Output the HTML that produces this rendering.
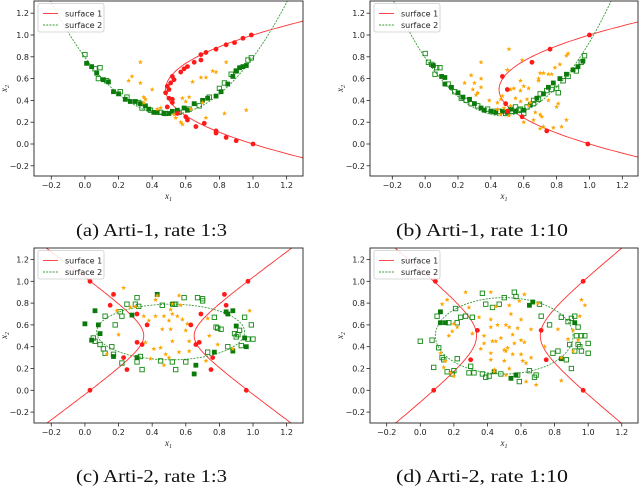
<!DOCTYPE html>
<html><head><meta charset="utf-8">
<style>
html,body{margin:0;padding:0;background:#fff;}
svg{display:block;}
.tk{font-family:"DejaVu Sans","Liberation Sans",sans-serif;font-size:8px;fill:#222;}
.cap{font-family:"Liberation Serif",serif;font-size:18px;fill:#111;}
.lg{font-family:"DejaVu Sans","Liberation Sans",sans-serif;font-size:8px;fill:#222;}
.al{font-family:"Liberation Serif",serif;font-style:italic;font-size:9px;fill:#222;}
</style></head>
<body>
<svg id="fig" width="640" height="486" viewBox="0 0 640 486" xmlns="http://www.w3.org/2000/svg"></svg>
<script>
// ---- data (x1, x2 pairs) ----
const aRed=[[0.99,1.0],[0.94,0.97],[0.89,0.93],[0.84,0.91],[0.78,0.87],[0.72,0.84],[0.69,0.82],[0.69,0.77],[0.65,0.75],[0.61,0.71],[0.59,0.69],[0.57,0.66],[0.52,0.62],[0.53,0.59],[0.51,0.56],[0.49,0.53],[0.5,0.5],[0.48,0.47],[0.5,0.42],[0.52,0.41],[0.49,0.34],[0.52,0.38],[0.55,0.28],[0.6,0.25],[0.61,0.22],[0.66,0.16],[0.71,0.19],[0.78,0.12],[0.78,0.1],[0.84,0.06],[0.9,0.03],[1.0,0.0]];
const aStar=[[0.33,0.75],[0.26,0.58],[0.28,0.62],[0.33,0.56],[0.4,0.5],[0.35,0.43],[0.36,0.41],[0.35,0.38],[0.43,0.32],[0.45,0.33],[0.53,0.27],[0.54,0.24],[0.58,0.18],[0.57,0.2],[0.58,0.42],[0.62,0.43],[0.64,0.57],[0.69,0.61],[0.72,0.61],[0.7,0.38],[0.72,0.24],[0.76,0.67],[0.78,0.66],[0.84,0.75],[0.83,0.28],[0.96,0.31],[0.63,0.32],[0.6,0.39]];
const aFill=[[0.01,0.74],[0.04,0.71],[0.07,0.65],[0.11,0.59],[0.14,0.57],[0.17,0.48],[0.2,0.46],[0.24,0.41],[0.27,0.39],[0.3,0.39],[0.33,0.37],[0.36,0.35],[0.38,0.32],[0.41,0.29],[0.43,0.29],[0.47,0.28],[0.5,0.28],[0.52,0.3],[0.55,0.31],[0.59,0.33],[0.61,0.31],[0.65,0.37],[0.7,0.4],[0.73,0.42],[0.78,0.44],[0.81,0.48],[0.85,0.55],[0.88,0.62],[0.9,0.67],[0.92,0.7],[0.94,0.71],[0.96,0.72]];
const aHollow=[[0.0,0.82],[0.06,0.69],[0.09,0.7],[0.08,0.6],[0.13,0.58],[0.21,0.48],[0.25,0.43],[0.32,0.38],[0.34,0.33],[0.39,0.31],[0.45,0.29],[0.48,0.28],[0.56,0.29],[0.62,0.32],[0.68,0.35],[0.74,0.43],[0.8,0.51],[0.83,0.56],[0.87,0.64],[0.9,0.67],[0.99,0.79],[0.97,0.77]];

const bRed=[[1.0,1.0],[0.76,0.87],[0.65,0.75],[0.47,0.62],[0.5,0.5],[0.49,0.37],[0.59,0.25],[0.74,0.12],[0.99,0.0],[0.5,0.3]];
const bStar=[[0.51,0.87],[0.34,0.75],[0.59,0.77],[0.5,0.68],[0.87,0.83],[0.86,0.81],[0.82,0.73],[0.79,0.7],[0.72,0.65],[0.7,0.65],[0.75,0.64],[0.77,0.64],[0.69,0.6],[0.69,0.58],[0.28,0.63],[0.34,0.6],[0.24,0.56],[0.3,0.56],[0.29,0.5],[0.32,0.47],[0.34,0.52],[0.31,0.45],[0.39,0.4],[0.46,0.41],[0.47,0.44],[0.52,0.5],[0.54,0.51],[0.58,0.49],[0.6,0.53],[0.63,0.51],[0.58,0.58],[0.55,0.42],[0.58,0.39],[0.62,0.41],[0.52,0.35],[0.48,0.33],[0.5,0.31],[0.44,0.32],[0.46,0.27],[0.6,0.2],[0.66,0.22],[0.7,0.27],[0.71,0.25],[0.8,0.34],[0.81,0.37],[0.75,0.4],[0.67,0.29],[0.64,0.38],[0.72,0.16],[0.78,0.15],[0.83,0.16],[0.86,0.22],[0.7,0.14],[0.51,0.26],[0.63,0.35],[0.44,0.38]];
const bFill=[[0.05,0.72],[0.1,0.62],[0.12,0.61],[0.12,0.55],[0.16,0.52],[0.2,0.47],[0.23,0.43],[0.27,0.41],[0.3,0.37],[0.34,0.33],[0.36,0.31],[0.4,0.3],[0.43,0.29],[0.47,0.3],[0.5,0.29],[0.52,0.32],[0.55,0.3],[0.6,0.31],[0.64,0.36],[0.68,0.42],[0.72,0.46],[0.75,0.52],[0.78,0.56],[0.82,0.6],[0.86,0.64],[0.9,0.68],[0.93,0.71],[0.96,0.76]];
const bHollow=[[0.0,0.83],[0.02,0.75],[0.04,0.73],[0.07,0.7],[0.09,0.7],[0.06,0.64],[0.14,0.55],[0.18,0.48],[0.22,0.42],[0.25,0.4],[0.28,0.37],[0.32,0.35],[0.38,0.32],[0.42,0.3],[0.45,0.3],[0.49,0.28],[0.53,0.3],[0.57,0.31],[0.58,0.32],[0.62,0.34],[0.66,0.37],[0.69,0.41],[0.7,0.46],[0.74,0.49],[0.8,0.51],[0.84,0.58],[0.87,0.62],[0.92,0.67],[0.97,0.81],[0.95,0.75],[0.6,0.28],[0.55,0.34],[0.66,0.4],[0.77,0.5],[0.81,0.47]];

const cRed=[[0.03,1.0],[0.17,0.88],[0.15,0.78],[0.31,0.7],[0.37,0.6],[0.31,0.44],[0.34,0.42],[0.23,0.3],[0.25,0.19],[0.03,0.0],[0.97,1.0],[0.83,0.88],[0.84,0.78],[0.69,0.7],[0.63,0.6],[0.66,0.42],[0.68,0.44],[0.76,0.3],[0.75,0.19],[0.96,0.0]];
const cStar=[[0.23,0.94],[0.42,0.83],[0.43,0.87],[0.56,0.87],[0.52,0.79],[0.57,0.78],[0.19,0.73],[0.35,0.68],[0.42,0.68],[0.47,0.68],[0.51,0.74],[0.52,0.7],[0.55,0.68],[0.58,0.65],[0.38,0.64],[0.5,0.64],[0.61,0.61],[0.46,0.56],[0.51,0.56],[0.6,0.55],[0.2,0.51],[0.36,0.44],[0.52,0.45],[0.62,0.45],[0.41,0.38],[0.45,0.39],[0.56,0.35],[0.39,0.29],[0.48,0.33],[0.13,0.33],[0.47,0.23],[0.5,0.3],[0.62,0.36],[0.72,0.27],[0.74,0.5],[0.79,0.42],[0.88,0.38],[0.98,0.73],[0.73,0.66],[0.27,0.76],[0.3,0.77]];
const cFill=[[0.0,0.61],[0.06,0.73],[0.08,0.6],[0.09,0.52],[0.04,0.46],[0.17,0.31],[0.43,0.88],[0.31,0.3],[0.52,0.79],[0.66,0.23],[0.65,0.15],[0.77,0.35],[0.84,0.72],[0.85,0.7],[0.88,0.73],[0.9,0.59],[0.95,0.48],[0.96,0.4],[0.88,0.36],[0.28,0.69]];
const cHollow=[[0.05,0.48],[0.06,0.45],[0.09,0.42],[0.11,0.38],[0.12,0.68],[0.16,0.4],[0.17,0.33],[0.18,0.6],[0.21,0.72],[0.22,0.68],[0.22,0.25],[0.25,0.79],[0.3,0.79],[0.31,0.85],[0.32,0.77],[0.31,0.26],[0.33,0.31],[0.34,0.19],[0.45,0.27],[0.46,0.78],[0.53,0.79],[0.54,0.79],[0.52,0.26],[0.54,0.19],[0.59,0.85],[0.6,0.26],[0.67,0.85],[0.7,0.84],[0.7,0.82],[0.73,0.35],[0.77,0.67],[0.78,0.58],[0.79,0.57],[0.81,0.56],[0.85,0.4],[0.89,0.52],[0.92,0.55],[0.95,0.67],[0.9,0.49],[0.91,0.51],[0.99,0.6],[0.93,0.41],[0.97,0.47],[1.0,0.47],[0.12,0.34]];

const dRed=[[0.09,1.0],[0.34,0.55],[0.3,0.28],[0.08,0.0],[0.97,1.0],[0.72,0.55],[0.75,0.28],[0.97,0.0]];
const dStar=[[0.27,0.9],[0.42,0.9],[0.62,0.88],[0.59,0.82],[0.45,0.77],[0.29,0.76],[0.16,0.83],[0.13,0.79],[0.53,0.78],[0.7,0.8],[0.96,0.83],[0.98,0.78],[0.95,0.68],[0.54,0.7],[0.42,0.65],[0.46,0.6],[0.6,0.65],[0.51,0.6],[0.53,0.58],[0.35,0.67],[0.42,0.58],[0.58,0.57],[0.66,0.56],[0.82,0.56],[0.91,0.55],[0.2,0.61],[0.22,0.58],[0.19,0.54],[0.17,0.5],[0.31,0.52],[0.38,0.5],[0.55,0.51],[0.48,0.48],[0.43,0.45],[0.45,0.45],[0.6,0.46],[0.62,0.44],[0.56,0.43],[0.38,0.43],[0.52,0.39],[0.5,0.37],[0.51,0.36],[0.55,0.33],[0.6,0.33],[0.42,0.34],[0.36,0.38],[0.12,0.34],[0.15,0.27],[0.14,0.21],[0.18,0.16],[0.2,0.13],[0.42,0.28],[0.5,0.27],[0.61,0.27],[0.63,0.25],[0.53,0.2],[0.44,0.19],[0.44,0.17],[0.51,0.14],[0.63,0.08],[0.69,0.05],[0.84,0.09],[0.91,0.36],[0.84,0.3],[0.66,0.3],[0.74,0.4],[0.88,0.47],[0.94,0.46]];
const dFill=[[0.12,0.72],[0.12,0.62],[0.15,0.62],[0.65,0.78],[0.67,0.81],[0.92,0.62],[0.44,0.17],[0.57,0.14],[0.54,0.11],[0.84,0.29]];
const dHollow=[[0.0,0.45],[0.07,0.46],[0.1,0.68],[0.11,0.39],[0.14,0.28],[0.13,0.3],[0.08,0.21],[0.16,0.17],[0.19,0.15],[0.2,0.18],[0.22,0.29],[0.22,0.62],[0.24,0.67],[0.27,0.68],[0.31,0.67],[0.21,0.75],[0.3,0.22],[0.29,0.16],[0.32,0.16],[0.37,0.89],[0.39,0.79],[0.43,0.76],[0.47,0.79],[0.39,0.12],[0.37,0.15],[0.41,0.13],[0.48,0.15],[0.5,0.85],[0.56,0.9],[0.57,0.86],[0.58,0.14],[0.59,0.08],[0.65,0.18],[0.68,0.12],[0.69,0.14],[0.71,0.79],[0.72,0.68],[0.77,0.6],[0.79,0.34],[0.82,0.36],[0.84,0.67],[0.87,0.28],[0.88,0.63],[0.9,0.2],[0.89,0.42],[0.9,0.66],[0.92,0.68],[0.94,0.58],[0.93,0.5],[0.96,0.5],[0.95,0.4],[0.96,0.36],[1.0,0.43],[1.0,0.34],[0.98,0.5],[0.94,0.42],[0.17,0.62],[0.92,0.36]];

// surface parameters
const aSurf1=[0.48,0.5,2.08], aSurf2=[0.5,0.27,2.1];
const bSurf1=[0.45,0.5,2.2], bSurf2=[0.47,0.26,2.4];
const cSurf1=[0.5,0.5,0.15,0.169], cSurf2=[0.51,0.535,0.44,0.255];
const dSurf1=[0.525,0.5,0.19,0.236], dSurf2=[0.5,0.5,0.41,0.35];

const xTicks=[-0.2,0.0,0.2,0.4,0.6,0.8,1.0,1.2];
const yTicks=[-0.2,0.0,0.2,0.4,0.6,0.8,1.0,1.2];
const captions=["(a) Arti-1, rate 1:3","(b) Arti-1, rate 1:10","(c) Arti-2, rate 1:3","(d) Arti-2, rate 1:10"];

const NS="http://www.w3.org/2000/svg";
const fig=document.getElementById('fig');
function mk(tag,attrs,parent){const e=document.createElementNS(NS,tag);for(const k in attrs)e.setAttribute(k,attrs[k]);(parent||fig).appendChild(e);return e;}
function fmt(v){const s=Math.abs(v).toFixed(1);return (v<-1e-9?'\u2212':'')+s;}

const panels=[
 {id:'a',l:34,r:303,t:1,b:176,x0:51.3,sx:168.1,y0:144,sy:109,red:aRed,star:aStar,fill:aFill,hollow:aHollow,kind:'para',s1:aSurf1,s2:aSurf2,capX:151.5,capY:236,capW:151},
 {id:'b',l:370,r:638,t:1,b:176,x0:392.3,sx:164.3,y0:144,sy:109,red:bRed,star:bStar,fill:bFill,hollow:bHollow,kind:'para',s1:bSurf1,s2:bSurf2,capX:482,capY:236,capW:172},
 {id:'c',l:34,r:303,t:248,b:423,x0:51.3,sx:168.1,y0:390.3,sy:109,red:cRed,star:cStar,fill:cFill,hollow:cHollow,kind:'hyp',s1:cSurf1,s2:cSurf2,capX:151.5,capY:482,capW:151},
 {id:'d',l:370,r:638,t:248,b:423,x0:386.7,sx:167.9,y0:390.3,sy:109,red:dRed,star:dStar,fill:dFill,hollow:dHollow,kind:'hyp',s1:dSurf1,s2:dSurf2,capX:482,capY:482,capW:172}
];

panels.forEach((p,pi)=>{
 const X=v=>p.x0+(v+0.2)*p.sx, Y=v=>p.y0-v*p.sy;
 const g=mk('g',{});
 
 
 const cp=mk('clipPath',{id:'clip'+p.id},g);
 mk('rect',{x:p.l,y:p.t,width:p.r-p.l,height:p.b-p.t},cp);
 const plot=mk('g',{'clip-path':'url(#clip'+p.id+')'},g);
 
 
 let d1='',d2='';
 if(p.kind==='para'){
  const [vx1,vy1,k1]=p.s1;
  for(let i=0;i<=200;i++){const y=-0.5+i*2.0/200;const x=vx1+k1*(y-vy1)*(y-vy1);d1+=(i?'L':'M')+X(x).toFixed(1)+' '+Y(y).toFixed(1);}
  const [vx2,vy2,k2]=p.s2;
  for(let i=0;i<=200;i++){const x=-0.5+i*2.0/200;const y=vy2+k2*(x-vx2)*(x-vx2);d2+=(i?'L':'M')+X(x).toFixed(1)+' '+Y(y).toFixed(1);}
 } else {
  const [cx,cy,a,bb]=p.s1;
  [1,-1].forEach(sg=>{for(let i=0;i<=200;i++){const t=-2.6+i*5.2/200;const x=cx+sg*a*Math.cosh(t);const y=cy+bb*Math.sinh(t);d1+=(i?'L':'M')+X(x).toFixed(1)+' '+Y(y).toFixed(1);}});
  const [ex,ey,rx,ry]=p.s2;
  for(let i=0;i<=200;i++){const t=i*2*Math.PI/200;d2+=(i?'L':'M')+X(ex+rx*Math.cos(t)).toFixed(1)+' '+Y(ey+ry*Math.sin(t)).toFixed(1);}
 }
 const c1=mk('path',{d:d1,fill:'none',stroke:'#ff3030','stroke-width':0.9},plot);
 
 
 const c2=mk('path',{d:d2,fill:'none',stroke:'#3a9a3a','stroke-width':0.9,'stroke-dasharray':'2 1.2'},plot);
 
 
 p.hollow.forEach(q=>{const e=mk('rect',{x:X(q[0])-2.2,y:Y(q[1])-2.2,width:4.4,height:4.4,fill:'none',stroke:'#138a13','stroke-width':0.9},plot);
  
  });
 p.fill.forEach(q=>{const e=mk('rect',{x:X(q[0])-2.4,y:Y(q[1])-2.4,width:4.8,height:4.8,fill:'#0b7a0b'},plot);
  
  });
 p.star.forEach(q=>{const cx=X(q[0]),cy=Y(q[1]);let s='';for(let i=0;i<10;i++){const r=i%2?1.1:2.6;const an=-Math.PI/2+i*Math.PI/5;s+=(cx+r*Math.cos(an)).toFixed(1)+','+(cy+r*Math.sin(an)).toFixed(1)+' ';}
  const e=mk('polygon',{points:s,fill:'#ffa500'},plot);
  
  });
 p.red.forEach(q=>{const e=mk('circle',{cx:X(q[0]),cy:Y(q[1]),r:2.4,fill:'#ff1a1a'},plot);
  
  });
 const fr=mk('rect',{x:p.l,y:p.t,width:p.r-p.l,height:p.b-p.t,fill:'none',stroke:'#222','stroke-width':0.9},g);
 
 
 xTicks.forEach(v=>{const x=X(v);mk('line',{x1:x,x2:x,y1:p.b,y2:p.b+3.5,stroke:'#222','stroke-width':0.8},g);
  const t=mk('text',{x:x,y:p.b+12,'text-anchor':'middle',class:'tk'},g);t.textContent=fmt(v);
  
  });
 yTicks.forEach(v=>{const y=Y(v);mk('line',{x1:p.l-3.5,x2:p.l,y1:y,y2:y,stroke:'#222','stroke-width':0.8},g);
  const t=mk('text',{x:p.l-5,y:y+3,'text-anchor':'end',class:'tk'},g);t.textContent=fmt(v);
  
  });
 const xl=mk('text',{x:(p.l+p.r)/2,y:p.b+23,'text-anchor':'middle',class:'al'},g);
 xl.innerHTML='x<tspan font-size="6" dy="2">1</tspan>';
 
 
 const yx=p.l-27, yy=(p.t+p.b)/2;
 const yl=mk('text',{x:yx,y:yy,'text-anchor':'middle',class:'al',transform:'rotate(-90 '+yx+' '+yy+')'},g);
 yl.innerHTML='x<tspan font-size="6" dy="2">2</tspan>';
 
 
 const lg=mk('g',{},g);
 
 
 mk('rect',{x:p.l+4,y:p.t+2.5,width:66,height:28.5,rx:2,fill:'#fff','fill-opacity':0.85,stroke:'#ccc','stroke-width':0.8},lg);
 mk('line',{x1:p.l+9,x2:p.l+24,y1:p.t+12.5,y2:p.t+12.5,stroke:'#ff3030','stroke-width':0.9},lg);
 mk('line',{x1:p.l+9,x2:p.l+24,y1:p.t+24,y2:p.t+24,stroke:'#3a9a3a','stroke-width':0.9,'stroke-dasharray':'2 1.2'},lg);
 const t1=mk('text',{x:p.l+31,y:p.t+15.5,class:'lg'},lg);t1.textContent='surface 1';
 
 
 const t2=mk('text',{x:p.l+31,y:p.t+27,class:'lg'},lg);t2.textContent='surface 2';
 
 
 const cap=mk('text',{x:p.capX,y:p.capY,'text-anchor':'middle',class:'cap',textLength:p.capW,lengthAdjust:'spacingAndGlyphs'},g);cap.textContent=captions[pi];
 
 
});
</script>
</body></html>
